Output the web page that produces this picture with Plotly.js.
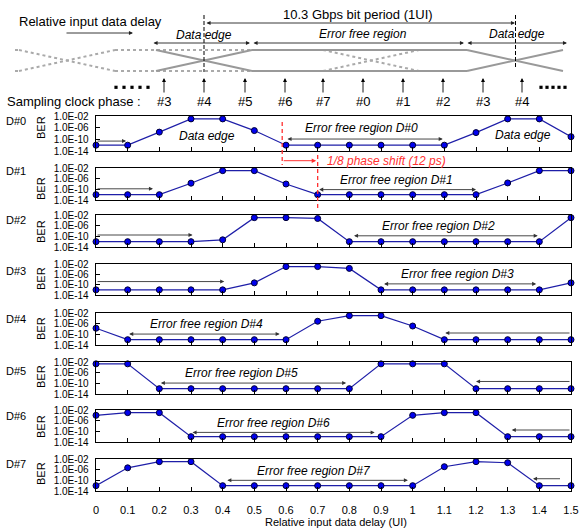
<!DOCTYPE html>
<html><head><meta charset="utf-8">
<script src="https://cdn.plot.ly/plotly-3.0.1.min.js"></script>
<style>html,body{margin:0;padding:0;background:#fff;}</style>
</head><body><div id="chart" style="width:579px;height:529px;"></div>
<script>
// ---------------- data ----------------
const delayUI = [0, 0.1, 0.2, 0.3, 0.4, 0.5, 0.6, 0.7, 0.8, 0.9, 1.0, 1.1, 1.2, 1.3, 1.4, 1.5];
const seriesNames = ['D#0', 'D#1', 'D#2', 'D#3', 'D#4', 'D#5', 'D#6', 'D#7'];
const berD0 = [1e-12, 1e-12, 3e-8, 1e-3, 1e-3, 1e-7, 1e-12, 1e-12, 1e-12, 1e-12, 1e-12, 1e-12, 2e-8, 1e-3, 1e-3, 8e-10];
const berD1 = [1e-12, 1e-12, 1e-12, 2e-8, 1e-3, 1e-3, 1e-8, 1e-12, 1e-12, 1e-12, 1e-12, 1e-12, 1e-12, 2.5e-8, 1e-3, 1e-3];
const berD2 = [1e-12, 1e-12, 1e-12, 1e-12, 5e-12, 1e-3, 1e-3, 5e-4, 1e-12, 1e-12, 1e-12, 1e-12, 1e-12, 1e-12, 1e-12, 1e-3];
const berD3 = [1e-12, 1e-12, 1e-12, 1e-12, 1e-12, 5e-10, 1e-3, 1e-3, 2e-4, 1e-12, 1e-12, 1e-12, 1e-12, 1e-12, 1e-12, 5e-10];
const berD4 = [2e-8, 1e-12, 1e-12, 1e-12, 1e-12, 1e-12, 1e-12, 8e-6, 1e-3, 1e-3, 1.3e-7, 1e-12, 1e-12, 1e-12, 1e-12, 1e-12];
const berD5 = [2e-3, 2e-3, 1e-12, 1e-12, 1e-12, 1e-12, 1e-12, 1e-12, 1e-12, 2e-3, 2e-3, 2e-3, 1e-12, 1e-12, 1e-12, 1e-12];
const berD6 = [1e-4, 1e-3, 1e-3, 1e-12, 1e-12, 1e-12, 1e-12, 1e-12, 1e-12, 1e-12, 1e-4, 1e-3, 1e-3, 1e-12, 1e-12, 1e-12];
const berD7 = [1e-12, 5e-6, 1e-3, 1e-3, 1e-12, 1e-12, 1e-12, 1e-12, 1e-12, 1e-12, 1e-12, 1.3e-5, 1e-3, 4e-4, 1e-12, 1e-12];
const berSeries = [berD0, berD1, berD2, berD3, berD4, berD5, berD6, berD7];

const yTickVals = [1e-2, 1e-6, 1e-10, 1e-14];
const yTickText = ['1.0E-02', '1.0E-06', '1.0E-10', '1.0E-14'];
const clockPhases = ['#3', '#4', '#5', '#6', '#7', '#0', '#1', '#2', '#3', '#4'];
const regionLabels = ['Error free region D#0', 'Error free region D#1', 'Error free region D#2', 'Error free region D#3',
  'Error free region D#4', 'Error free region D#5', 'Error free region D#6', 'Error free region D#7'];
// error-free region arrows [from, to, log10 level] and one-sided arrows [tail, head, level]
const regionSpans = [[0.6, 1.095, -9.9], [0.7, 1.2, -10.1], [0.81, 1.395, -9.8], [0.905, 1.39, -9.7],
  [0.1, 0.58, -9.9], [0.2, 0.79, -9.9], [0.3, 0.88, -10.4], [0.41, 0.985, -10.0]];
const sideArrows = [[0, 0.095, -10.6], [0, 0.18, -9.8], [0, 0.305, -9.5], [0, 0.405, -8.8],
  [1.5, 1.103, -9.5], [1.5, 1.2, -9.3], [1.5, 1.313, -9.5], [1.47, 1.38, -9.4]];
const regionLabelPos = [[0.837, -6], [0.95, -6.4], [1.08, -6], [1.143, -5.9], [0.35, -6.25], [0.458, -6], [0.562, -6.9], [0.687, -6.6]];
const phaseShiftFrom = 0.588, phaseShiftTo = 0.7;

// ---------------- layout helpers ----------------
const W = 579, H = 529;
const PX = x => x / W, PY = y => 1 - y / H;
const FONT = 'Arial, "Liberation Sans", sans-serif';
const panels = [[116, 151], [168, 200], [215, 247], [264, 295], [313, 345], [362, 394], [410, 442], [459, 491]];
const labelY = [121, 171, 220, 271, 319, 371, 416, 464];
const berY = [128, 189, 232, 279, 329, 377, 427, 474];
const X0 = 96, X1 = 571;
const XR = 1.5;
const dataToPx = v => X0 + v * (X1 - X0) / XR;

const data = [];
const layout = {
  width: W, height: H, margin: {l: 0, r: 0, t: 0, b: 0},
  paper_bgcolor: '#fff', plot_bgcolor: '#fff', showlegend: false,
  font: {family: FONT, size: 12, color: '#000'},
  shapes: [], annotations: []
};
const sfx = k => (k === 0 ? '' : String(k + 1));

berSeries.forEach((ys, k) => {
  const s = sfx(k);
  data.push({
    x: delayUI, y: ys, xaxis: 'x' + s, yaxis: 'y' + s, name: seriesNames[k],
    type: 'scatter', mode: 'lines+markers', cliponaxis: false,
    line: {color: '#1e1ea8', width: 1.2},
    marker: {size: 6, color: '#0000ee', line: {color: '#000033', width: 1}}
  });
  const [top, bot] = panels[k];
  layout['xaxis' + s] = {
    domain: [X0 / W, X1 / W], range: [0, XR], anchor: 'y' + s,
    showline: true, mirror: true, linecolor: '#000', linewidth: 1.3,
    ticks: 'inside', ticklen: 4, tickcolor: '#000', tick0: 0, dtick: 0.1,
    showticklabels: k === 7, tickfont: {size: 11, family: FONT}, ticklabelstandoff: 8,
    showgrid: false, zeroline: false, fixedrange: true
  };
  layout['yaxis' + s] = {
    domain: [PY(bot), PY(top)], type: 'log', range: [-14, -2], anchor: 'x' + s,
    showline: true, mirror: true, linecolor: '#000', linewidth: 1.3,
    ticks: 'inside', ticklen: 4, tickcolor: '#000',
    tickvals: yTickVals, ticktext: yTickText, tickfont: {size: 10, family: FONT}, ticklabelstandoff: 4,
    showgrid: false, zeroline: false, fixedrange: true
  };
  // left labels
  layout.annotations.push({xref: 'paper', yref: 'paper', x: PX(16), y: PY(labelY[k]), text: seriesNames[k],
    showarrow: false, font: {size: 11}, xanchor: 'center', yanchor: 'middle'});
  layout.annotations.push({xref: 'paper', yref: 'paper', x: PX(41), y: PY(berY[k]), text: 'BER', textangle: -90,
    showarrow: false, font: {size: 11}, xanchor: 'center', yanchor: 'middle'});
  // region arrows
  const [a, b, lv] = regionSpans[k];
  layout.annotations.push({xref: 'x' + s, yref: 'y' + s, axref: 'x' + s, ayref: 'y' + s,
    x: b, y: lv, ax: a, ay: lv, text: '', showarrow: true, arrowside: 'end+start',
    arrowhead: 2, startarrowhead: 2, arrowsize: 0.9, startarrowsize: 0.9, arrowwidth: 0.9, arrowcolor: '#333', standoff: 0, startstandoff: 0});
  const [t0, h0, lv2] = sideArrows[k];
  layout.annotations.push({xref: 'x' + s, yref: 'y' + s, axref: 'x' + s, ayref: 'y' + s,
    x: h0, y: lv2, ax: t0, ay: lv2, text: '', showarrow: true, arrowside: 'end',
    arrowhead: 2, arrowsize: 0.9, arrowwidth: 0.9, arrowcolor: '#333', standoff: 0});
  layout.annotations.push({xref: 'x' + s, yref: 'y' + s, x: regionLabelPos[k][0], y: regionLabelPos[k][1],
    text: '<i>' + regionLabels[k] + '</i>', showarrow: false, font: {size: 12}, xanchor: 'center', yanchor: 'middle'});
});
// Data edge labels in D#0
layout.annotations.push({xref: 'x', yref: 'y', x: 0.35, y: -9, text: '<i>Data edge</i>', showarrow: false, font: {size: 12}});
layout.annotations.push({xref: 'x', yref: 'y', x: 1.348, y: -8.4, text: '<i>Data edge</i>', showarrow: false, font: {size: 12}});

// x axis title
layout.annotations.push({xref: 'paper', yref: 'paper', x: PX(336), y: PY(522), text: 'Relative input data delay (UI)',
  showarrow: false, font: {size: 11}, xanchor: 'center', yanchor: 'middle'});

// ---------------- top schematic & helpers ----------------
function pline(x0, y0, x1, y1, color, width, dash) {
  layout.shapes.push({type: 'line', xref: 'paper', yref: 'paper', x0: PX(x0), y0: PY(y0), x1: PX(x1), y1: PY(y1),
    line: {color: color, width: width, dash: dash || 'solid'}});
}
function parrow(x0, y0, x1, y1, both, color, w) {
  layout.annotations.push({xref: 'paper', yref: 'paper', x: PX(x1), y: PY(y1), ax: x0 - x1, ay: y0 - y1,
    axref: 'pixel', ayref: 'pixel', text: '', showarrow: true, arrowside: both ? 'end+start' : 'end',
    arrowhead: 2, startarrowhead: 2, arrowsize: 0.9, startarrowsize: 0.9, arrowwidth: w || 0.9, arrowcolor: color || '#222',
    standoff: 0, startstandoff: 0});
}
function ptext(x, y, text, size, anchor, color) {
  layout.annotations.push({xref: 'paper', yref: 'paper', x: PX(x), y: PY(y), text: text, showarrow: false,
    font: {size: size, color: color || '#000'}, xanchor: anchor || 'center', yanchor: 'middle'});
}

// red phase shift marks
const RED = '#ff3030';
const rx0 = dataToPx(phaseShiftFrom), rx1 = dataToPx(phaseShiftTo);
pline(rx0, 122, rx0, 165, RED, 1.3, '4px,3px');
pline(rx1, 155, rx1, 210, RED, 1.3, '4px,3px');
parrow(rx0, 160.7, rx1 - 1.5, 160.7, false, RED, 1);
ptext(rx1 + 7, 160.7, '<i>1/8 phase shift (12 ps)</i>', 12, 'left', RED);

const UP = 50, LO = 71, HW = 48;
const GRAY = '#999', GRAYD = '#aaa';
// dotted (delayed) eye
pline(15, UP, 67 - HW, UP, GRAYD, 2, 'dot'); pline(15, LO, 67 - HW, LO, GRAYD, 2, 'dot');
pline(67 - HW, UP, 67 + HW, LO, GRAYD, 2, 'dot'); pline(67 - HW, LO, 67 + HW, UP, GRAYD, 2, 'dot');
pline(67 + HW, UP, 371 - HW, UP, GRAYD, 2, 'dot'); pline(67 + HW, LO, 371 - HW, LO, GRAYD, 2, 'dot');
pline(371 - HW, UP, 371 + HW, LO, GRAYD, 2, 'dot'); pline(371 - HW, LO, 371 + HW, UP, GRAYD, 2, 'dot');
// solid eye
pline(204 - HW, UP, 204 + HW, LO, GRAY, 2); pline(204 - HW, LO, 204 + HW, UP, GRAY, 2);
pline(204 + HW, UP, 515 - HW, UP, GRAY, 2); pline(204 + HW, LO, 515 - HW, LO, GRAY, 2);
pline(515 - HW, UP, 515 + HW, LO, GRAY, 2); pline(515 - HW, LO, 515 + HW, UP, GRAY, 2);
// dashed edge markers
pline(204, 15, 204, 72, '#000', 1, '4px,2px'); pline(515.5, 15, 515.5, 68, '#000', 1, '4px,2px');
// arrows
parrow(65, 33, 133, 33, false);
parrow(205, 23, 515, 23, true);
parrow(152, 43, 250, 43, true);
parrow(252, 43, 464, 43, true);
parrow(466, 43, 567, 43, true);
// texts
ptext(17, 22, 'Relative input data delay', 13, 'left');
ptext(358, 14, '10.3 Gbps bit period (1UI)', 13, 'center');
ptext(204, 35, '<i>Data edge</i>', 12, 'center');
ptext(363, 34, '<i>Error free region</i>', 12, 'center');
ptext(517, 34, '<i>Data edge</i>', 12, 'center');
ptext(5, 101, 'Sampling clock phase :', 13, 'left');
// sampling clock arrows
const phaseX = [164, 204, 245, 285, 323, 363, 403, 443, 483, 522];
phaseX.forEach((x, i) => {
  parrow(x, 94, x, 78, false, '#000');
  ptext(x, 101, clockPhases[i], 13, 'center');
});
// dot leaders
[116, 124, 132, 140, 148].forEach(x => layout.shapes.push({type: 'rect', xref: 'paper', yref: 'paper',
  x0: PX(x - 1.6), x1: PX(x + 1.6), y0: PY(85.7), y1: PY(88.9), fillcolor: '#000', line: {width: 0}}));
[541, 547, 553, 559, 565].forEach(x => layout.shapes.push({type: 'rect', xref: 'paper', yref: 'paper',
  x0: PX(x - 1.6), x1: PX(x + 1.6), y0: PY(85.7), y1: PY(88.9), fillcolor: '#000', line: {width: 0}}));

Plotly.newPlot('chart', data, layout, {displayModeBar: false, staticPlot: true});
</script></body></html>
